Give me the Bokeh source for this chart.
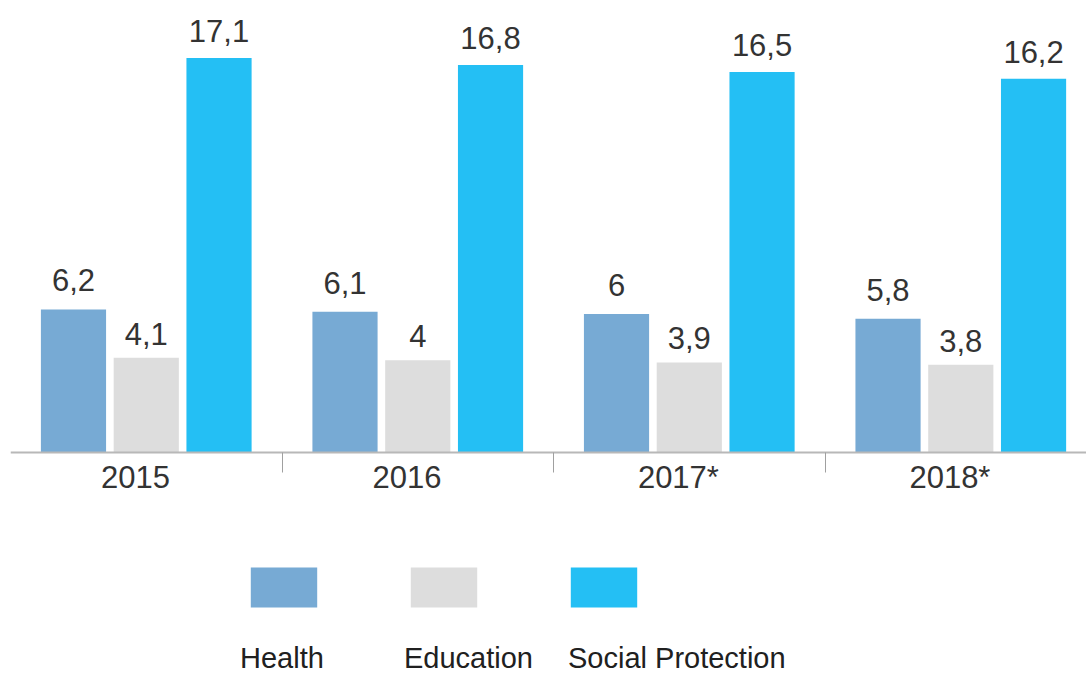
import numpy as np
from bokeh.plotting import figure
from bokeh.models import (ColumnDataSource, Range1d, LinearAxis, FixedTicker,
                          Legend, LegendItem)
from bokeh.transform import dodge
from bokeh.core.properties import value
from bokeh.embed import file_html
from bokeh.resources import INLINE

# ---- data ----
years = ["2015", "2016", "2017*", "2018*"]
health = [6.2, 6.1, 6.0, 5.8]
education = [4.1, 4.0, 3.9, 3.8]
social = [17.1, 16.8, 16.5, 16.2]
series_names = ["Health", "Education", "Social Protection"]
series_colors = ["#77AAD4", "#DDDDDD", "#24BFF4"]

FONT = "Liberation Sans"
TXT = "#333333"

def fmt(v):
    return f"{v:g}".replace(".", ",")

xc = list(np.arange(len(years)) + 0.5)
src = ColumnDataSource(dict(
    xc=xc, years=years,
    health=health, education=education, social=social,
    health_l=[fmt(v) for v in health],
    education_l=[fmt(v) for v in education],
    social_l=[fmt(v) for v in social],
))

p = figure(width=1086, height=675, output_backend="svg", toolbar_location=None,
           x_range=Range1d(0, 3.963), y_range=Range1d(-9.675, 19.25),
           x_axis_type=None, y_axis_type=None,
           min_border=0, min_border_left=10, min_border_top=8)
p.outline_line_color = None
p.background_fill_color = "white"

offsets = [-0.268, 0.0, 0.268]
cols = ["health", "education", "social"]
gaps = [29, 24, 27]
bar_renderers = []
for col, off, color, gap in zip(cols, offsets, series_colors, gaps):
    r = p.vbar(x=dodge("xc", off, range=p.x_range), top=col, width=0.24,
               bottom=0, source=src, fill_color=color, line_color=None)
    bar_renderers.append(r)
    p.text(x=dodge("xc", off, range=p.x_range), y=col, text=col + "_l",
           source=src, text_align="center", text_baseline="alphabetic",
           y_offset=-gap, text_font=value(FONT), text_font_size="31px",
           text_color=TXT)

# x axis at y=0 with category labels and separator ticks between groups
label_shift = -0.04
label_ticks = [float(x + label_shift) for x in xc]
ticker = FixedTicker(ticks=label_ticks, minor_ticks=[1.0, 2.0, 3.0])
xaxis = LinearAxis(ticker=ticker, fixed_location=0,
                   major_label_overrides={t: y for t, y in zip(label_ticks, years)},
                   axis_line_color="#B8B8B8", axis_line_width=2,
                   major_tick_out=0, major_tick_in=0,
                   minor_tick_out=20, minor_tick_in=0,
                   minor_tick_line_color="#A0A0A0", minor_tick_line_width=1,
                   major_label_standoff=-12,
                   major_label_text_font=FONT,
                   major_label_text_font_size="31px",
                   major_label_text_color=TXT)
p.add_layout(xaxis, "below")

# legend: swatches row
leg_a = Legend(items=[LegendItem(label=" ", renderers=[r]) for r in bar_renderers],
               orientation="horizontal", location=(231.7, 63),
               glyph_width=83, glyph_height=50, label_standoff=0,
               label_width=0, label_height=0, label_text_font_size="1px",
               spacing=77, padding=0, margin=0,
               border_line_color=None, background_fill_alpha=0)
p.add_layout(leg_a, "center")

# legend: labels row (dummy invisible renderers)
dummies = [p.vbar(x=[], top=[], width=0.1, fill_alpha=0, line_alpha=0)
           for _ in series_names]
leg_b = Legend(items=[LegendItem(label=n, renderers=[d])
                      for n, d in zip(series_names, dummies)],
               orientation="horizontal", location=(230, 0),
               glyph_width=0, glyph_height=20, label_standoff=0,
               label_width=164, label_height=20,
               label_text_font=FONT, label_text_font_size="29px",
               label_text_color="#202020",
               spacing=0, padding=0, margin=0,
               border_line_color=None, background_fill_alpha=0)
p.add_layout(leg_b, "center")

open("out.html", "w").write(file_html(p, INLINE))
